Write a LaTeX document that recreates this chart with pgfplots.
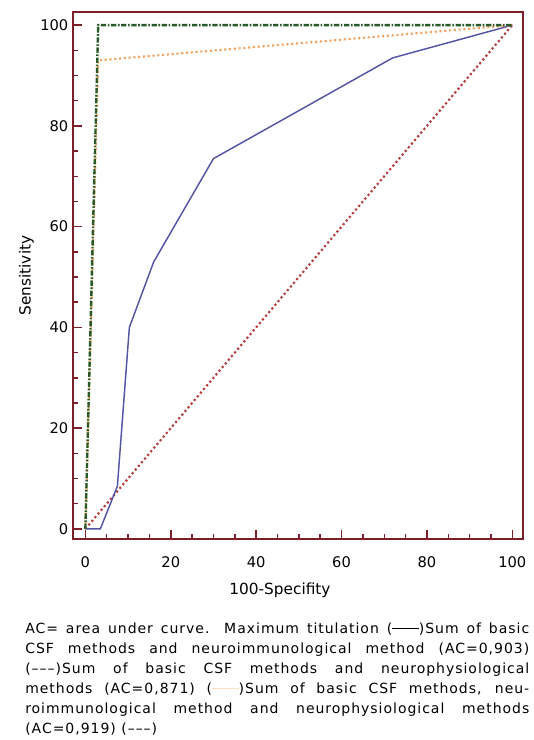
\documentclass[border=0pt]{standalone}
\usepackage{fontspec}
\setmainfont{DejaVu Sans}
\newfontfamily\capfont[LetterSpace=7]{DejaVu Sans}
\usepackage{pgfplots}
\pgfplotsset{compat=1.18}

\definecolor{axred}{RGB}{125,30,40}
\definecolor{diagred}{RGB}{180,60,60}
\definecolor{rocblue}{RGB}{85,85,165}
\definecolor{rocorange}{RGB}{244,164,96}
\definecolor{rocgreen}{RGB}{40,90,40}

\newcommand{\capline}[1]{\makebox[378pt][s]{#1}}
\newcommand{\solid}{\rule[0.3em]{1.9em}{0.6pt}}
\newcommand{\faint}{\textcolor{rocorange!35}{\rule[0.3em]{1.9em}{0.6pt}}}

\begin{document}
\begin{tikzpicture}
\useasboundingbox (0,0) rectangle (399.75pt,-555pt);
\begin{axis}[
  at={(54.75pt,-404.25pt)}, anchor=south west,
  scale only axis, width=337.5pt, height=395.25pt,
  xmin=-2.9, xmax=102.5, ymin=-2, ymax=102.6,
  xtick={0,20,...,100}, ytick={0,20,...,100},
  minor x tick num=3, minor y tick num=3,
  xtick pos=bottom, ytick pos=left, tick align=inside,
  major tick length=6.5pt, minor tick length=3.5pt,
  every tick/.style={axred, line width=1.1pt},
  axis line style={draw=axred, line width=1.2pt},
  ticklabel style={font=\fontsize{11}{13}\selectfont},
  /pgf/number format/assume math mode=true,
  xticklabel style={yshift=-10pt},
  xlabel={100-Specifity}, ylabel={Sensitivity},
  label style={font=\fontsize{11.5}{13}\selectfont},
  xlabel style={yshift=-4pt, xshift=-13.5pt},
  ylabel style={yshift=-2pt},
]
\addplot[diagred, dotted, line width=1.6pt] coordinates {(0,0)(100,100)};
\addplot[rocblue, line width=1.1pt] coordinates {
  (0,0)(3.5,0)(7.5,8.5)(10.3,40)(16,53)(30,73.5)(72,93.5)(100,100)};
\addplot[rocorange, dotted, line width=1.6pt] coordinates {(0,0)(3,93)(100,100)};
\addplot[rocgreen, line width=1.8pt, dash pattern=on 4pt off 1.2pt on 1.2pt off 1.2pt] coordinates {(0,0)(3,100)(100,100)};
\end{axis}
\begin{scope}[font=\capfont\fontsize{10.5}{12}\selectfont]
\node[anchor=base west, inner sep=0] at (18.75pt,-474.75pt) {\capline{AC= area under curve. Maximum titulation (\solid)Sum of basic}};
\node[anchor=base west, inner sep=0] at (18.75pt,-489.75pt) {\capline{CSF methods and neuroimmunological method (AC=0,903)}};
\node[anchor=base west, inner sep=0] at (18.75pt,-504.75pt) {\capline{(–––)Sum of basic CSF methods and neurophysiological}};
\node[anchor=base west, inner sep=0] at (18.75pt,-519.75pt) {\capline{methods (AC=0,871) (\faint)Sum of basic CSF methods, neu-}};
\node[anchor=base west, inner sep=0] at (18.75pt,-534.75pt) {\capline{roimmunological method and neurophysiological methods}};
\node[anchor=base west, inner sep=0] at (18.75pt,-549.75pt) {(AC=0,919) (–––)};
\end{scope}
\end{tikzpicture}
\end{document}
